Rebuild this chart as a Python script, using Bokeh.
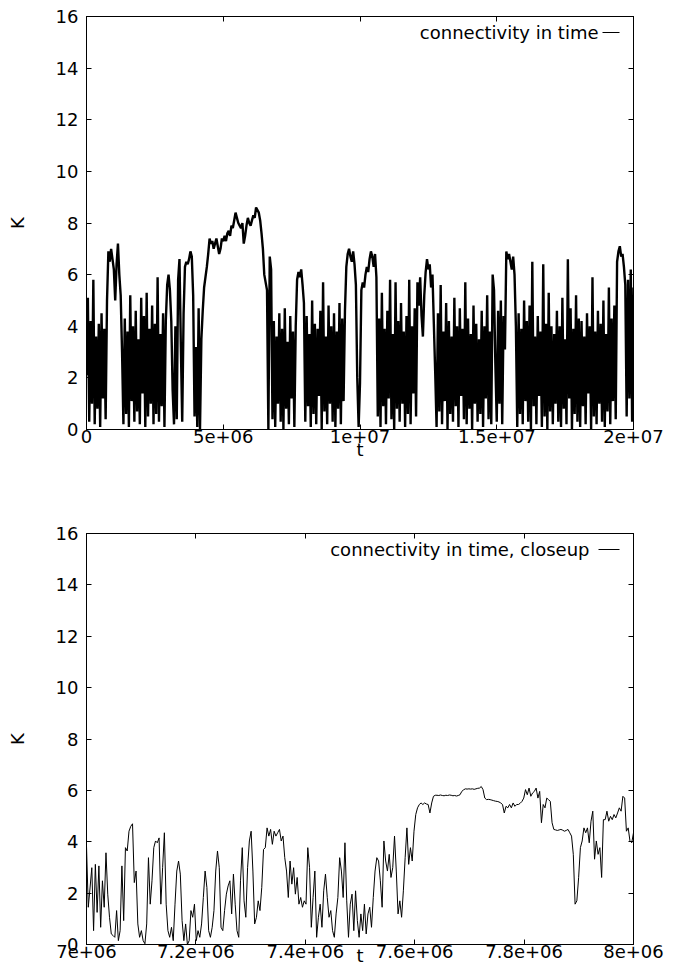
import numpy as np
from bokeh.plotting import figure
from bokeh.models import Range1d, LinearAxis, FixedTicker, Label
from bokeh.layouts import column
from bokeh.embed import file_html
from bokeh.resources import INLINE

# ---------------- data ----------------
series_names = ["connectivity in time", "connectivity in time, closeup"]

full_t_range = [0.0, 2.0e7]
full_k = [
    2.1, 5.1, 0.3, 4.2, 1.0, 5.8, 0.2, 3.6, 0.8, 4.1, 0.1, 4.5, 1.2, 3.9, 0.4, 5.0,
    6.9, 6.5, 7.0, 6.6, 6.2, 5.0, 6.4, 7.2, 6.0, 5.2, 3.0,
    0.2, 4.3, 0.6, 3.8, 0.1, 5.2, 1.1, 4.0, 0.3, 4.6, 0.7, 3.5, 0.2, 5.1, 1.4, 4.4,
    0.1, 5.3, 0.5, 3.9, 1.0, 4.8, 0.2, 4.1, 0.6, 5.9, 0.3, 3.7, 0.9, 4.5, 0.1, 4.2,
    5.6, 6.0, 5.4, 4.2, 1.5,
    0.2, 4.0, 0.4,
    5.8, 6.6, 3.2, 0.3, 4.5,
    6.3, 6.5, 6.4, 6.6, 6.9, 6.7, 5.2,
    0.5, 3.2, 0.1, 4.7, 0.0, 3.5,
    4.6, 5.5, 5.9, 6.3, 6.8, 7.4, 7.2, 7.3, 7.0, 7.2,
    7.4, 7.1, 6.8, 7.0, 7.4, 7.3, 7.5, 7.3, 7.6, 7.7,
    7.5, 7.9, 7.8, 8.1, 8.4, 8.2, 8.0, 7.9, 7.8, 8.0,
    7.2, 7.5, 7.9, 8.2, 8.0, 7.9, 8.1, 8.3, 8.2, 8.6,
    8.5, 8.4, 8.1, 7.6, 7.0, 6.0, 5.7, 5.4,
    0.0, 6.7, 6.2,
    0.4, 4.2, 0.1, 3.6, 1.0, 4.5, 0.3, 3.9, 0.0, 4.7, 0.8, 3.4, 0.2, 4.4, 1.2, 3.8, 0.1, 4.0,
    5.8, 6.1, 5.9, 6.2, 5.6, 4.9,
    0.3, 4.4, 0.9, 3.7, 0.1, 5.0, 0.6, 4.1, 0.2, 3.9, 1.3, 4.6, 0.0, 5.7, 0.7,
    3.6, 0.2, 4.8, 1.0, 4.0, 0.3, 4.5, 0.1, 3.8, 0.8, 4.9, 0.2, 4.3, 1.1, 4.6,
    6.3, 6.8, 7.0, 6.7, 6.5, 6.9, 6.4, 5.6,
    2.0, 0.1, 1.8,
    5.4, 5.7, 5.5, 6.0, 6.3, 6.1, 6.6, 6.9, 6.7, 6.3, 6.8, 5.9,
    0.5, 4.3, 0.1, 5.3, 0.9, 3.9, 0.2, 4.6, 1.2, 5.8, 0.4, 3.7, 0.0, 5.7, 0.8,
    4.2, 0.3, 4.9, 1.0, 3.8, 0.1, 4.4, 0.6, 5.8, 0.2, 4.0, 1.4, 4.7, 0.5,
    5.7, 4.8, 5.9, 4.4, 3.6, 5.2, 6.1, 6.6, 6.2, 6.4, 5.5, 6.0, 4.1, 2.2,
    0.1, 4.5, 0.7, 5.6, 0.2, 3.8, 1.1, 4.9, 0.0, 4.2, 0.6, 3.6, 0.3, 5.1, 0.9,
    4.0, 0.1, 4.7, 1.3, 3.9, 0.4, 5.7, 0.2, 4.3, 0.8, 3.7, 0.0, 4.8, 1.0, 4.1,
    0.3, 3.5, 0.6, 4.6, 0.1, 4.0, 1.2, 5.2, 0.4, 3.8, 0.2,
    6.0, 5.4, 2.5,
    0.3, 4.6, 1.0, 5.0, 0.2, 4.4, 3.1,
    6.9, 6.6, 6.8, 6.5, 6.2, 6.7, 6.0, 4.0,
    0.1, 4.5, 0.6, 3.9, 0.2, 5.0, 1.1, 4.2, 0.3, 4.8,
    0.0, 6.5, 0.9, 3.6, 0.2, 4.4, 1.3, 3.8, 0.1, 6.4,
    0.5, 4.1, 0.0, 5.3, 0.7, 4.0, 0.2, 3.7, 1.0, 4.6,
    0.3, 4.0, 0.1, 5.1, 0.8, 3.5, 0.2, 6.6, 1.2, 4.7,
    0.0, 3.9, 0.6, 5.2, 0.3, 4.3, 0.1, 4.2, 0.9, 3.6,
    0.2, 4.5, 1.4, 4.0, 0.0, 5.9, 0.5, 3.8, 0.2, 4.6,
    1.0, 4.1, 0.3, 5.0, 0.1, 3.7, 0.7, 5.5, 0.2, 4.3,
    1.1, 4.8, 0.4,
    6.5, 6.9, 7.1, 6.7, 6.8, 6.3, 5.6,
    0.5, 5.8, 1.2, 6.2, 0.3, 5.5,
]

close_t_range = [7.0e6, 8.0e6]
close_k = [
    3.83, 1.45, 2.20, 2.99, 0.54, 3.12, 1.25, 3.06, 0.67, 2.48,
    1.45, 3.57, 1.96, 1.06, 0.41, 0.35, 0.28, 1.32, 0.15, 0.54,
    3.06, 0.93, 3.77, 3.64, 4.41, 4.60, 4.70, 2.41, 2.86, 0.80,
    0.28, 0.54, 0.15, 0.03, 0.80, 3.38, 1.57, 2.48, 3.77, 4.03,
    3.96, 4.15, 1.57, 2.99, 4.35, 1.57, 0.54, 0.28, 0.67, 0.15,
    1.57, 2.86, 3.25, 2.74, 0.93, 0.15, 0.80, 0.00, 0.15, 1.32,
    1.06, 1.57, 0.15, 0.54, 0.28, 0.80, 1.83, 2.86, 2.22, 0.54,
    0.28, 0.67, 1.32, 2.86, 3.64, 2.99, 0.67, 0.54, 1.32, 1.96,
    2.28, 2.48, 1.19, 2.74, 1.57, 0.54, 0.28, 2.48, 3.77, 1.70,
    1.06, 2.99, 4.03, 4.41, 2.86, 0.80, 1.06, 1.70, 1.32, 2.22,
    3.70, 3.77, 4.54, 4.22, 4.48, 3.90, 4.41, 4.22, 4.35, 4.48,
    4.03, 4.22, 3.38, 2.86, 1.83, 3.25, 2.35, 2.99, 1.96, 2.61,
    1.57, 1.83, 1.45, 1.70, 1.57, 3.77, 2.99, 0.67, 1.83, 2.86,
    0.28, 1.06, 1.57, 0.67, 2.09, 2.74, 1.83, 1.06, 1.32, 0.54,
    0.28, 1.19, 1.83, 3.38, 2.86, 1.83, 3.96, 1.70, 0.28, 1.57,
    1.96, 0.54, 2.09, 0.93, 0.28, 1.19, 0.54, 1.57, 0.41, 1.19,
    1.45, 0.67, 1.83, 2.86, 3.38, 3.25, 2.48, 1.45, 4.03, 3.25,
    2.86, 3.51, 2.61, 2.99, 4.22, 2.86, 1.19, 1.70, 1.06, 2.09,
    3.38, 4.54, 3.12, 3.77, 3.25, 4.41, 5.06, 5.32, 5.45, 5.51,
    5.45, 5.51, 5.47, 5.45, 5.12, 5.51, 5.77, 5.81, 5.81, 5.80,
    5.82, 5.80, 5.79, 5.81, 5.80, 5.82, 5.81, 5.79, 5.80, 5.78,
    5.80, 5.83, 5.96, 6.02, 6.06, 6.05, 6.06, 6.05, 6.06, 6.04,
    6.06, 6.08, 6.09, 6.15, 6.03, 5.70, 5.64, 5.65, 5.64, 5.62,
    5.60, 5.58, 5.57, 5.55, 5.51, 5.45, 5.12, 5.38, 5.32, 5.45,
    5.32, 5.51, 5.38, 5.45, 5.45, 5.50, 5.57, 5.70, 6.03, 5.83,
    6.09, 5.77, 5.90, 5.96, 6.09, 5.70, 5.96, 4.74, 5.45, 5.32,
    5.70, 5.64, 5.57, 4.74, 4.48, 4.46, 4.44, 4.46, 4.48, 4.45,
    4.41, 4.44, 4.48, 4.35, 4.22, 3.51, 1.57, 1.70, 2.60, 3.77,
    4.03, 4.54, 4.35, 4.54, 3.96, 4.80, 5.19, 3.32, 4.03, 3.51,
    3.77, 2.61, 4.86, 4.86, 5.19, 4.80, 4.99, 4.86, 5.06, 4.93,
    5.12, 5.32, 5.19, 5.77, 5.70, 4.41, 4.54, 4.03, 3.96, 4.35,
]

y_lim = [0, 16]
y_ticks = [0, 2, 4, 6, 8, 10, 12, 14, 16]
full_x_ticks = [0.0, 5.0e6, 1.0e7, 1.5e7, 2.0e7]
full_x_tick_labels = ["0", "5e+06", "1e+07", "1.5e+07", "2e+07"]
close_x_ticks = [7.0e6, 7.2e6, 7.4e6, 7.6e6, 7.8e6, 8.0e6]
close_x_tick_labels = ["7e+06", "7.2e+06", "7.4e+06", "7.6e+06", "7.8e+06", "8e+06"]

# sampling grids (evenly spaced time stamps)
full_t = np.linspace(full_t_range[0], full_t_range[1], len(full_k))
close_t = np.linspace(close_t_range[0], close_t_range[1], len(close_k))

# ---------------- style ----------------
FONT = "DejaVu Sans"
FS = "18px"
W = 670
LEFT, RIGHT = 86, 37


def style_axis(ax, ticks, standoff, show_labels=True):
    ax.ticker = FixedTicker(ticks=ticks, minor_ticks=[])
    ax.major_tick_in = 5
    ax.major_tick_out = 0
    ax.minor_tick_in = 0
    ax.minor_tick_out = 0
    ax.axis_line_color = "black"
    ax.axis_line_width = 1
    ax.major_tick_line_color = "black"
    ax.major_tick_line_width = 1
    ax.major_label_standoff = standoff
    ax.major_label_text_font = FONT
    if show_labels:
        ax.major_label_text_font_size = FS
        ax.major_label_text_color = "black"
    else:
        ax.major_label_text_font_size = "1px"
        ax.major_label_text_color = None
    ax.axis_label_text_font = FONT
    ax.axis_label_text_font_size = FS
    ax.axis_label_text_font_style = "normal"
    ax.axis_label_text_color = "black"


def panel(t, k, xr, xticks, xlabels, name, H, top, bottom,
          xl_standoff, xt_standoff, key_text_off, key_line_off, lw):
    p = figure(width=W, height=H, output_backend="svg", toolbar_location=None,
               x_range=Range1d(xr[0], xr[1]), y_range=Range1d(y_lim[0], y_lim[1]),
               min_border_left=LEFT, min_border_right=RIGHT,
               min_border_top=top, min_border_bottom=bottom,
               x_axis_label="t", y_axis_label="K",
               background_fill_color="white", border_fill_color="white")
    p.grid.visible = False
    p.outline_line_color = "black"
    p.outline_line_width = 1
    p.outline_line_alpha = 1

    p.line(t, k, line_color="black", line_width=lw)

    xa = p.xaxis[0]
    ya = p.yaxis[0]
    style_axis(xa, xticks, xt_standoff)
    xa.major_label_overrides = {float(v): s for v, s in zip(xticks, xlabels)}
    xa.axis_label_standoff = xl_standoff
    style_axis(ya, y_ticks, 8)
    ya.axis_label_standoff = 25

    ra = LinearAxis()
    style_axis(ra, y_ticks, 0, False)
    p.add_layout(ra, "right")
    ta = LinearAxis()
    style_axis(ta, xticks, 0, False)
    p.add_layout(ta, "above")

    # key: text on the left, line sample on the right (gnuplot style)
    fw = W - LEFT - RIGHT
    fh = H - top - bottom
    xpp = (xr[1] - xr[0]) / fw
    ypp = (y_lim[1] - y_lim[0]) / fh
    ky = y_lim[1] - 16 * ypp
    p.add_layout(Label(x=xr[1] - key_text_off * xpp, y=ky, text=name,
                       text_align="right", text_baseline="middle",
                       text_font=FONT, text_font_size=FS, text_color="black"))
    p.segment(x0=[xr[1] - key_line_off[0] * xpp], y0=[ky],
              x1=[xr[1] - key_line_off[1] * xpp], y1=[ky],
              line_color="black", line_width=1)
    return p


# top panel: frame 16..429 ; bottom panel: frame 533..944 (page pixels)
p1 = panel(full_t, full_k, full_t_range, full_x_ticks, full_x_tick_labels,
           series_names[0], 485, 16, 56, -7, 0, 35, (31, 14), 2.4)
p2 = panel(close_t, close_k, close_t_range, close_x_ticks, close_x_tick_labels,
           series_names[1], 485, 48, 26, -16, 0, 44, (35, 14), 1.0)

layout = column(p1, p2)
open("out.html", "w").write(file_html(layout, INLINE, "connectivity"))
